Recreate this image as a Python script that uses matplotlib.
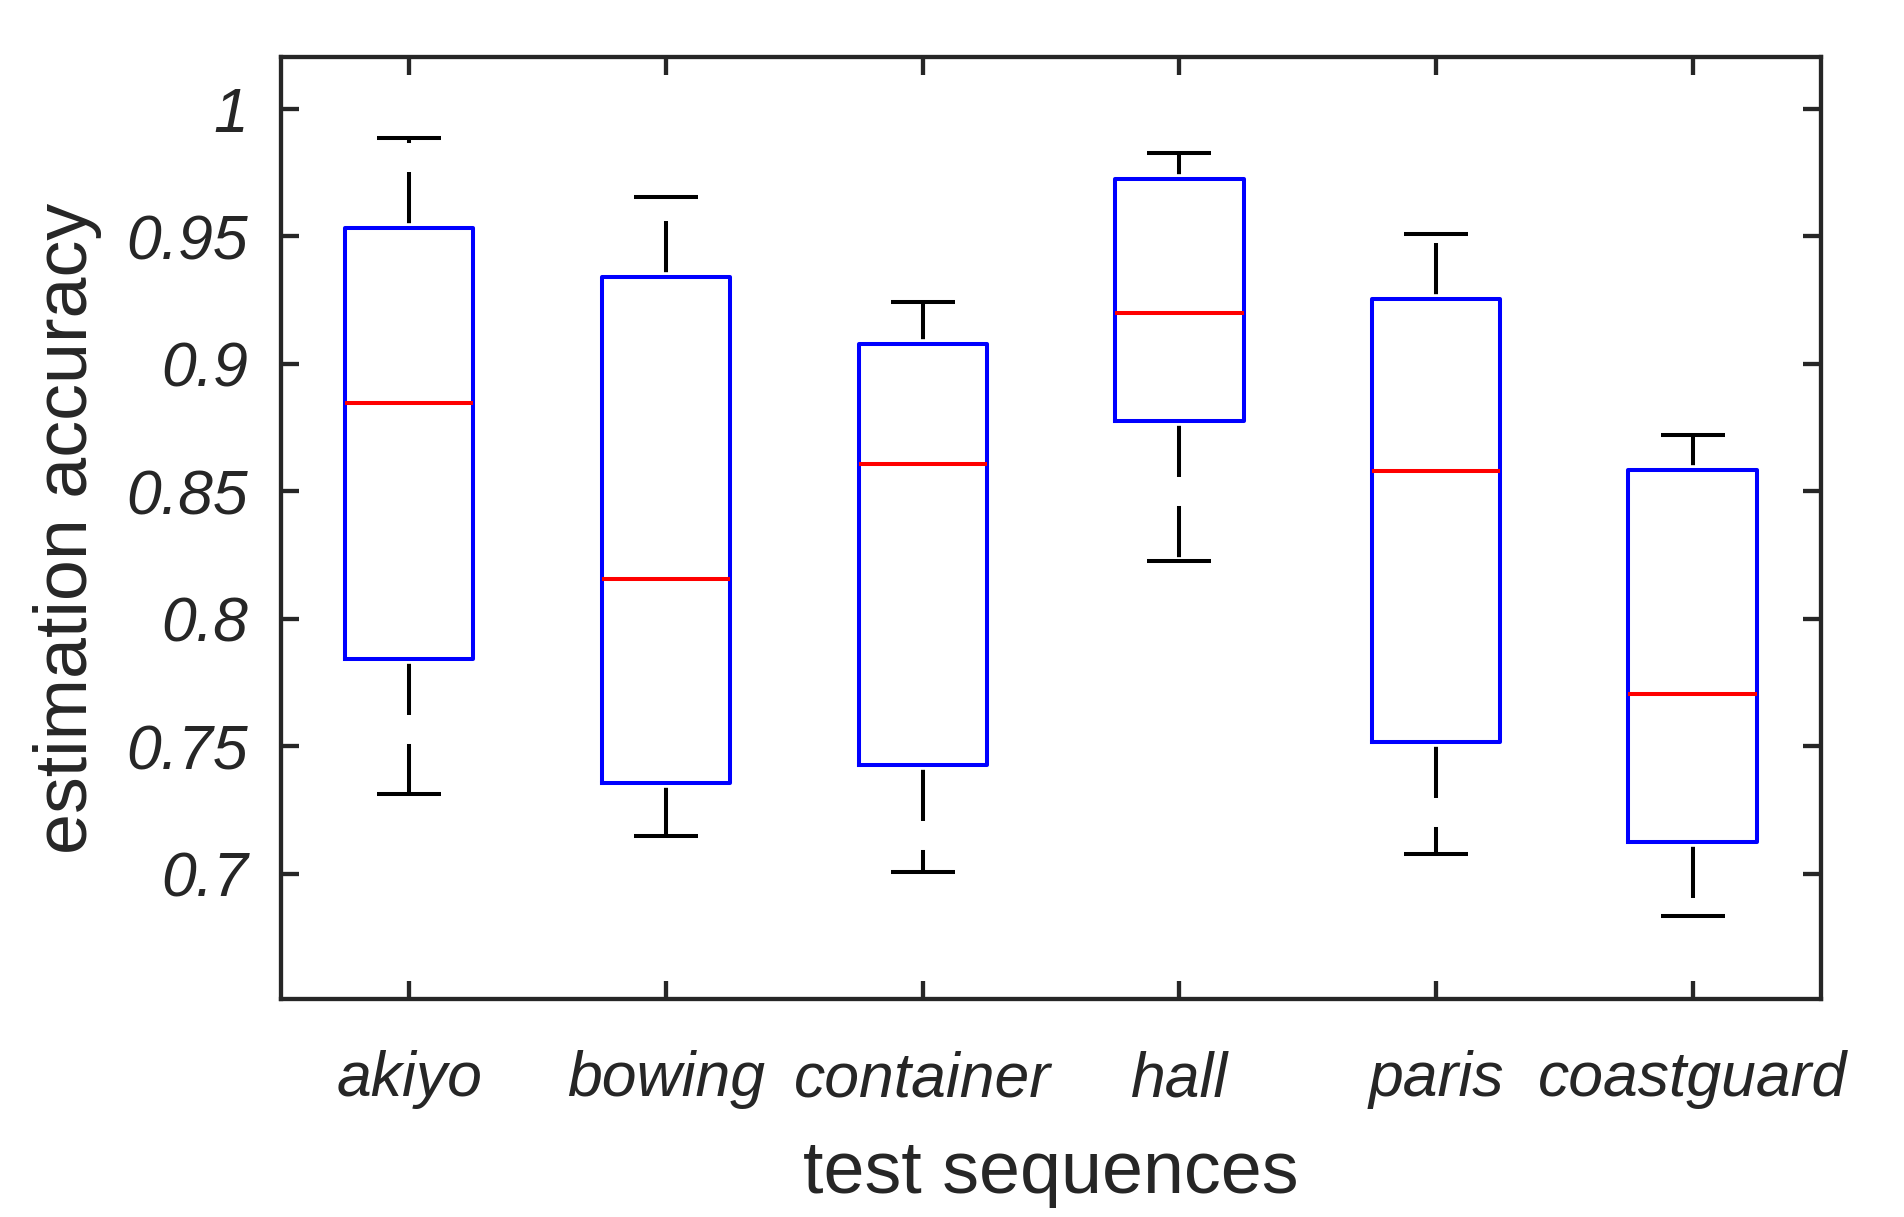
import matplotlib
matplotlib.use("Agg")
import matplotlib.pyplot as plt

categories = ["akiyo", "bowing", "container", "hall", "paris", "coastguard"]
whislo = [0.7314, 0.7148, 0.7006, 0.8227, 0.7077, 0.6835]
q1 = [0.7842, 0.7357, 0.7429, 0.8774, 0.7519, 0.7124]
med = [0.8846, 0.8156, 0.8607, 0.9197, 0.8579, 0.7704]
q3 = [0.9530, 0.9340, 0.9078, 0.9724, 0.9254, 0.8584]
whishi = [0.9886, 0.9653, 0.9240, 0.9824, 0.9510, 0.8721]
yticks = [0.7, 0.75, 0.8, 0.85, 0.9, 0.95, 1.0]
ytick_labels = ["0.7", "0.75", "0.8", "0.85", "0.9", "0.95", "1"]

plt.rcParams['font.family'] = ['Liberation Sans', 'DejaVu Sans']
dark = "#262626"

fig = plt.figure(figsize=(19.04, 12.17), dpi=100)
ax = fig.add_axes([281 / 1904, 1 - 999 / 1217, 1540 / 1904, 942 / 1217])

stats = []
for i, name in enumerate(categories):
    stats.append(dict(label=name, whislo=whislo[i], q1=q1[i], med=med[i],
                      q3=q3[i], whishi=whishi[i], fliers=[]))

lw = 2.9
ax.bxp(stats, positions=range(1, len(categories) + 1), widths=0.5,
       showfliers=False, patch_artist=False,
       boxprops=dict(color=(0, 0, 1), linewidth=2.9),
       medianprops=dict(color=(1, 0, 0), linewidth=2.9),
       whiskerprops=dict(color="black", linewidth=lw,
                         linestyle=(18.7, (12.7, 7.2)),
                         solid_capstyle='butt', dash_capstyle='butt'),
       capprops=dict(color="black", linewidth=lw, solid_capstyle='butt'),
       capwidths=0.25)

ax.set_xlim(0.5, 6.5)
ax.set_ylim(0.651, 1.0202)
ax.set_yticks(yticks)
ax.set_yticklabels(ytick_labels)
ax.set_xticks(range(1, len(categories) + 1))
ax.set_xticklabels(categories)

for s in ax.spines.values():
    s.set_linewidth(3.1)
    s.set_color(dark)

ax.tick_params(axis='both', direction='in', length=12.8, width=3.1, color=dark,
               labelcolor=dark, labelsize=45, top=True, right=True)
ax.tick_params(axis='y', pad=24)
ax.tick_params(axis='x', pad=37)
for lab in ax.get_xticklabels() + ax.get_yticklabels():
    lab.set_fontstyle('italic')

ax.set_xlabel("test sequences", fontsize=53, color=dark, labelpad=21)
ax.set_ylabel("estimation accuracy", fontsize=53, color=dark, labelpad=17)

fig.savefig("out.png", dpi=100)
